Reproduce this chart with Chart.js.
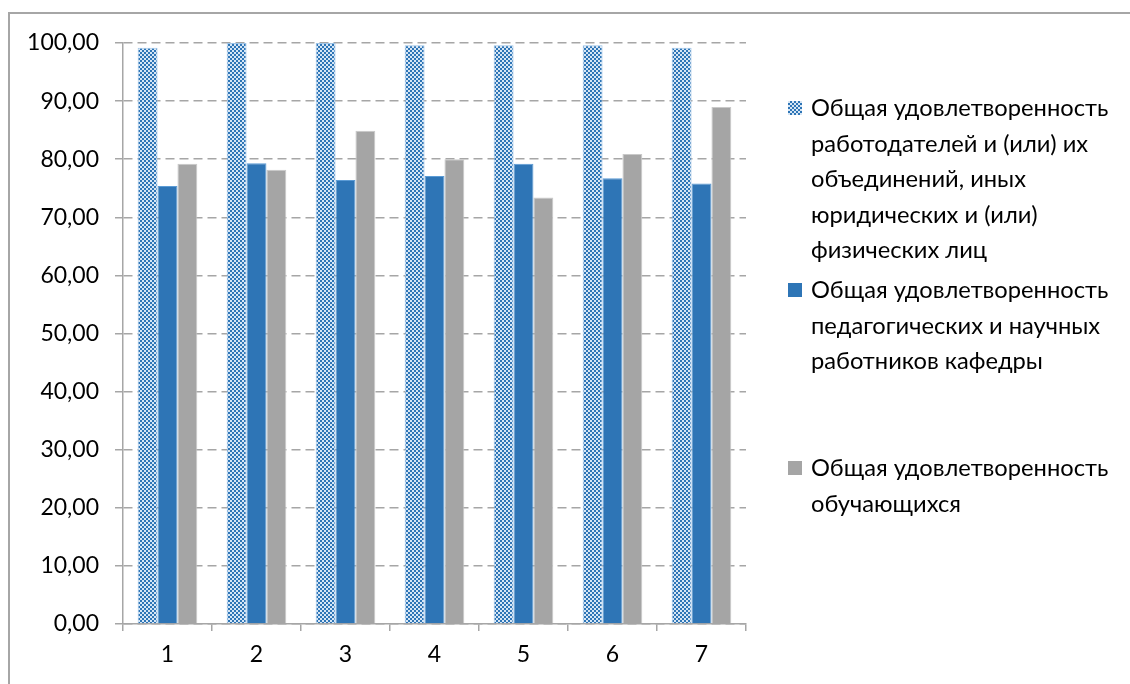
<!DOCTYPE html>
<html>
<head>
<meta charset="utf-8">
<script src="https://cdn.jsdelivr.net/npm/chart.js@4"></script>
<style>
  html, body { margin: 0; padding: 0; background: #fff; }
  #wrap { position: relative; width: 1130px; height: 684px; overflow: hidden; }
  #frame { position: absolute; left: 8px; top: 12px; right: -2px; bottom: -2px;
           border-top: 2px solid #a6a6a6; border-left: 2px solid #a6a6a6; }
  #chart { position: absolute; left: 0; top: 0; }
  .legend { position: absolute; left: 788px; font-family: Lato, sans-serif; font-size: 23.7px;
            line-height: 35.5px; color: #000; }
  .legend .item { position: absolute; left: 0; white-space: nowrap; }
  .legend .box { position: absolute; left: 0; top: 11px; width: 14px; height: 14px; }
  .legend .text { position: absolute; left: 23px; top: 0; }
</style>
</head>
<body>
<div id="wrap">
  <div id="frame"></div>
  <canvas id="chart" width="1130" height="684"></canvas>
  <div class="legend" id="legend"></div>
</div>
<script>
// Data
const categories = ['1', '2', '3', '4', '5', '6', '7'];
const employers = [99.2, 100, 100, 99.6, 99.6, 99.6, 99.2];
const staff = [75.4, 79.3, 76.4, 77.1, 79.2, 76.7, 75.8];
const students = [79.2, 78.2, 84.9, 80.0, 73.4, 80.9, 89.0];
const seriesLabels = [
    ['Общая удовлетворенность', 'работодателей и (или) их', 'объединений, иных', 'юридических и (или)', 'физических лиц'],
    ['Общая удовлетворенность', 'педагогических и научных', 'работников кафедры'],
    ['Общая удовлетворенность', 'обучающихся']
];
const yMin = 0, yMax = 100, yStep = 10;

const BLUE = '#2e75b6';
const GRAY = '#a5a5a5';
const PATTERN_BG = '#d6e6f5';

// Checkerboard fill for the first series
function makePattern() {
    const c = document.createElement('canvas');
    c.width = 4; c.height = 4;
    const g = c.getContext('2d');
    g.fillStyle = PATTERN_BG;
    g.fillRect(0, 0, 4, 4);
    g.fillStyle = BLUE;
    g.fillRect(0, 0, 2, 2);
    g.fillRect(2, 2, 2, 2);
    return document.getElementById('chart').getContext('2d').createPattern(c, 'repeat');
}

const fontSpec = { family: 'Lato, sans-serif', size: 23 };

const chart = new Chart(document.getElementById('chart'), {
    type: 'bar',
    data: {
        labels: categories,
        datasets: [
            { label: seriesLabels[0].join(' '), data: employers, backgroundColor: makePattern(),
              borderColor: '#9dc3e6', borderWidth: 1 },
            { label: seriesLabels[1].join(' '), data: staff, backgroundColor: BLUE,
              borderColor: '#5b9bd5', borderWidth: 1 },
            { label: seriesLabels[2].join(' '), data: students, backgroundColor: GRAY,
              borderColor: '#c9c9c9', borderWidth: 1 }
        ]
    },
    options: {
        responsive: false,
        animation: false,
        devicePixelRatio: 1,
        categoryPercentage: 0.67,
        barPercentage: 1,
        layout: { padding: { left: 0, top: 43, right: 384, bottom: 0 } },
        plugins: { legend: { display: false }, tooltip: { enabled: false } },
        scales: {
            x: {
                grid: { offset: true, drawOnChartArea: false, tickLength: 7, color: '#a6a6a6', lineWidth: 1.5 },
                border: { display: true, color: '#a6a6a6', width: 1.5 },
                ticks: { color: '#000', font: fontSpec, padding: 10 },
                afterFit: s => { s.height = 60; }
            },
            y: {
                min: yMin, max: yMax,
                // border.dash dashes the gridlines; tick marks stay solid
                grid: { color: '#a6a6a6', lineWidth: 1.5, tickLength: 8, tickBorderDash: [] },
                border: { display: true, color: '#a6a6a6', width: 1.5, dash: [9, 5] },
                ticks: {
                    stepSize: yStep, color: '#000', font: fontSpec, padding: 16,
                    callback: v => v.toFixed(2).replace('.', ',')
                },
                afterFit: s => { s.width = 123; }
            }
        }
    }
});

// HTML legend
const legend = document.getElementById('legend');
const fills = [
    'repeating-conic-gradient(' + BLUE + ' 0 25%, ' + PATTERN_BG + ' 0 50%) 0 0 / 4px 4px',
    BLUE,
    GRAY
];
const tops = [90, 272, 450];
seriesLabels.forEach((lines, i) => {
    const item = document.createElement('div');
    item.className = 'item';
    item.style.top = tops[i] + 'px';
    const box = document.createElement('div');
    box.className = 'box';
    box.style.background = fills[i];
    const text = document.createElement('div');
    text.className = 'text';
    text.innerHTML = lines.join('<br>');
    item.appendChild(box);
    item.appendChild(text);
    legend.appendChild(item);
});
</script>
</body>
</html>
